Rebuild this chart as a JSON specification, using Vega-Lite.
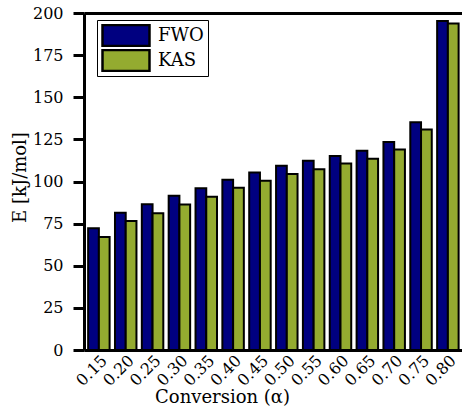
{
  "$schema": "https://vega.github.io/schema/vega-lite/v6.json",
  "autosize": "none",
  "width": 378,
  "height": 337,
  "padding": {"left": 84, "top": 13, "right": 0, "bottom": 56},
  "background": "white",
  "data": {"values": [
    {"conv": "0.15", "method": "FWO", "E": 72.3}, {"conv": "0.15", "method": "KAS", "E": 67.1},
    {"conv": "0.20", "method": "FWO", "E": 81.5}, {"conv": "0.20", "method": "KAS", "E": 76.5},
    {"conv": "0.25", "method": "FWO", "E": 86.5}, {"conv": "0.25", "method": "KAS", "E": 81.2},
    {"conv": "0.30", "method": "FWO", "E": 91.5}, {"conv": "0.30", "method": "KAS", "E": 86.4},
    {"conv": "0.35", "method": "FWO", "E": 96.0}, {"conv": "0.35", "method": "KAS", "E": 90.9},
    {"conv": "0.40", "method": "FWO", "E": 101.0}, {"conv": "0.40", "method": "KAS", "E": 96.3},
    {"conv": "0.45", "method": "FWO", "E": 105.3}, {"conv": "0.45", "method": "KAS", "E": 100.5},
    {"conv": "0.50", "method": "FWO", "E": 109.3}, {"conv": "0.50", "method": "KAS", "E": 104.5},
    {"conv": "0.55", "method": "FWO", "E": 112.3}, {"conv": "0.55", "method": "KAS", "E": 107.3},
    {"conv": "0.60", "method": "FWO", "E": 115.2}, {"conv": "0.60", "method": "KAS", "E": 110.7},
    {"conv": "0.65", "method": "FWO", "E": 118.2}, {"conv": "0.65", "method": "KAS", "E": 113.5},
    {"conv": "0.70", "method": "FWO", "E": 123.5}, {"conv": "0.70", "method": "KAS", "E": 119.0},
    {"conv": "0.75", "method": "FWO", "E": 135.2}, {"conv": "0.75", "method": "KAS", "E": 130.8},
    {"conv": "0.80", "method": "FWO", "E": 195.3}, {"conv": "0.80", "method": "KAS", "E": 193.7}
  ]},
  "encoding": {
    "x": {
      "field": "conv", "type": "ordinal",
      "scale": {"paddingInner": 0.2, "paddingOuter": 0.14, "align": 0.55}
    },
    "xOffset": {"field": "method", "type": "nominal", "scale": {"paddingInner": 0, "paddingOuter": 0}},
    "y": {
      "field": "E", "type": "quantitative",
      "scale": {"domain": [0, 200], "nice": false},
      "axis": {
        "title": "E [kJ/mol]",
        "values": [0, 25, 50, 75, 100, 125, 150, 175, 200],
        "grid": false,
        "ticks": true,
        "tickSize": 11,
        "tickWidth": 3,
        "tickColor": "black",
        "tickOpacity": 1,
        "zindex": 1,
        "labelPadding": 10,
        "titleX": -59, "titleY": 164, "titleAlign": "center", "titleBaseline": "alphabetic", "titleAngle": -90
      }
    },
    "color": {
      "field": "method", "type": "nominal",
      "scale": {"domain": ["FWO", "KAS"], "range": ["#000080", "#94AB30"]},
      "legend": {
        "title": null,
        "orient": "none",
        "legendX": 13,
        "legendY": 7,
        "symbolType": "M-1,-0.447H1V0.447H-1Z",
        "symbolSize": 2209,
        "symbolStrokeColor": "black",
        "symbolStrokeWidth": 2.5,
        "symbolOpacity": 1,
        "clipHeight": 23,
        "rowPadding": 2,
        "labelOffset": 7,
        "labelFont": "DejaVu Serif",
        "labelFontSize": 18,
        "labelColor": "black",
        "strokeColor": "black",
        "fillColor": "white",
        "padding": 4
      }
    }
  },
  "layer": [
    {
      "mark": {"type": "bar", "stroke": "black", "strokeWidth": 2},
      "encoding": {
        "x": {
          "field": "conv", "type": "ordinal",
          "axis": {
            "title": "Conversion (α)",
            "orient": "bottom",
            "labelAngle": -45,
            "tickSize": 0,
            "tickOpacity": 0,
            "labelPadding": 2,
            "zindex": 1,
            "titleX": 138, "titleY": 52, "titleAlign": "center", "titleBaseline": "alphabetic"
          }
        }
      }
    },
    {
      "mark": {"type": "bar", "opacity": 0},
      "encoding": {
        "x": {
          "field": "conv", "type": "ordinal",
          "axis": {"orient": "top", "labels": false, "tickSize": 0, "tickOpacity": 0, "title": null, "domain": true}
        }
      }
    }
  ],
  "resolve": {"axis": {"x": "independent"}},
  "config": {
    "view": {"stroke": null},
    "axis": {
      "domainColor": "black", "domainWidth": 3,
      "labelFont": "DejaVu Serif", "labelFontSize": 16, "labelColor": "black",
      "titleFont": "DejaVu Serif", "titleFontSize": 18, "titleFontWeight": "normal", "titleColor": "black"
    },
    "legend": {"strokeWidth": 1}
  }
}
